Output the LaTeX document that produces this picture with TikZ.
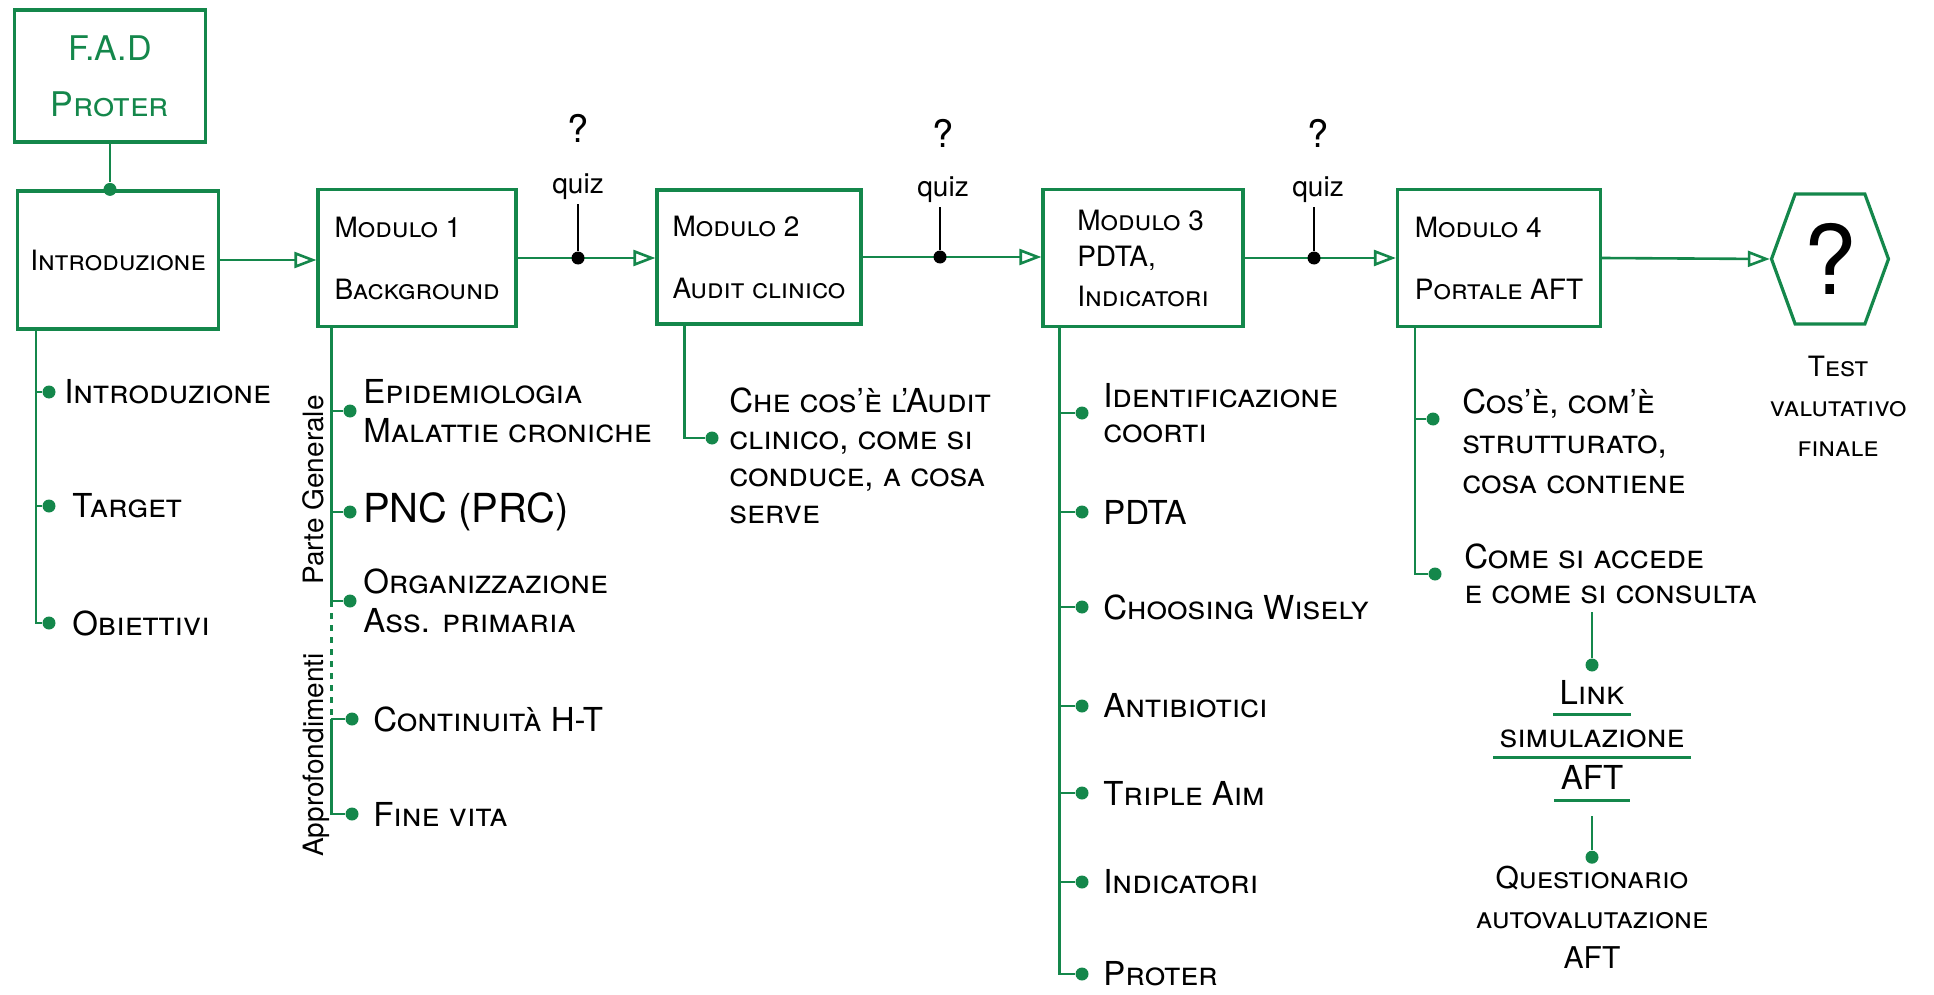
\documentclass[tikz,border=0pt]{standalone}
\usepackage{fontspec}
\setmainfont{TeX Gyre Heros}
\usetikzlibrary{arrows.meta, positioning, shapes.symbols, calc}
\definecolor{grn}{RGB}{20,135,75}
\newcommand\itmfont{\fontsize{16.5}{19.5}\selectfont\scshape}
\newcommand\boxfont{\fontsize{14}{17}\selectfont\scshape}
\tikzset{
  box/.style ={rectangle, draw=grn, line width=1.6pt, align=left, inner sep=0pt, font=\boxfont},
  hexa/.style={signal, signal to=west and east, signal pointer angle=140, draw=grn, line width=1.6pt,
               inner sep=0pt, minimum width=58.5pt, minimum height=65pt, font=\fontsize{48}{48}\selectfont},
  itm/.style ={align=left, inner sep=0pt, font=\itmfont},
  dot/.style ={circle, fill=grn, inner sep=0pt, minimum size=6.5pt},
  qdot/.style={circle, fill=black, inner sep=0pt, minimum size=6.5pt},
  qlbl/.style={inner sep=2pt, font=\fontsize{14}{14}\selectfont},
  rot/.style ={rotate=90, inner sep=0pt, font=\fontsize{14}{14}\selectfont},
  ulbl/.style={inner xsep=3pt, inner ysep=5pt, text height=11pt, text depth=0pt, font=\itmfont},
  fl/.style  ={draw=grn, line width=1.3pt, -{Triangle[open, length=11pt, width=8pt]}},
  br/.style  ={draw=grn, line width=1.1pt},
  ql/.style  ={draw=black, line width=1pt},
  ul/.style  ={draw=grn, line width=1.5pt},
}

\begin{document}
\begin{tikzpicture}[x=0.5pt, y=-0.5pt]
  \useasboundingbox (0,0) rectangle (1934,995);
  % riga principale
  \node[box, minimum width=95.5pt, minimum height=66pt, align=center, text=grn,
        font=\fontsize{17}{19}\selectfont\scshape] (fad) at (110,76) {F.A.D\\[9pt]Proter};
  \node[box, minimum width=100.5pt, minimum height=69pt] (intro) at (118,260) {Introduzione};
  \node[box, minimum width=99pt, minimum height=68.5pt] (m1) at (417,258) {Modulo 1\\[14pt]Background};
  \node[box, minimum width=102pt, minimum height=67pt] (m2) at (759,257) {Modulo 2\\[14pt]Audit clinico};
  \node[box, minimum width=100pt, minimum height=68.5pt] (m3) at (1143,258) {Modulo 3\\[1pt]PDTA,\\[3pt]Indicatori};
  \node[box, minimum width=101.5pt, minimum height=68.5pt] (m4) at (1499,258) {Modulo 4\\[14pt]Portale AFT};
  \node[hexa] (test) at (1830,259) {?};
  \node[itm, align=center, font=\fontsize{14}{20}\selectfont\scshape] (tvf) at (1838,406) {Test\\valutativo\\finale};

  \node[dot] (fd) at (fad.south |- intro.north) {};
  \draw[br] (fad.south) -- (fd);
  \draw[fl] (intro.east) -- (intro.east -| m1.west);
  \draw[fl] (m1.east) -- (m1.east -| m2.west);
  \draw[fl] (m2.east) -- (m2.east -| m3.west);
  \draw[fl] (m3.east) -- (m3.east -| m4.west);
  \draw[fl] (m4.east) -- (test.west);

  % quiz
  \node[qdot] (q1) at (578,258) {};
  \node[qdot] (q2) at (940,257) {};
  \node[qdot] (q3) at (1314,258) {};
  \node[qlbl, font=\fontsize{19}{19}\selectfont] (qa1) at (578,128) {?};
  \node[qlbl] (qz1) at (578,187) {quiz};
  \node[qlbl, font=\fontsize{19}{19}\selectfont] (qa2) at (943,133) {?};
  \node[qlbl] (qz2) at (943,190) {quiz};
  \node[qlbl, font=\fontsize{19}{19}\selectfont] (qa3) at (1318,133) {?};
  \node[qlbl] (qz3) at (1318,190) {quiz};
  \draw[ql] (qz1.south) -- (q1);
  \draw[ql] (qz2.south -| q2) -- (q2);
  \draw[ql] (qz3.south -| q3) -- (q3);

  % Introduzione
  \coordinate (isp) at ([xshift=10pt]intro.south west);
  \node[dot] (i1) at (49,392) {};
  \node[dot] (i2) at (49,506) {};
  \node[dot] (i3) at (49,623) {};
  \node[itm, right=4pt of i1] (it1) {Introduzione};
  \node[itm, right=8pt of i2] (it2) {Target};
  \node[itm, right=8pt of i3] (it3) {Obiettivi};
  \draw[br] (isp) |- (i1);
  \draw[br] (isp) |- (i2);
  \draw[br] (isp) |- (i3);

  % Modulo 1
  \coordinate (bsp) at ([xshift=7.5pt]m1.south west);
  \node[dot] (b1) at (350,411) {};
  \node[dot] (b2) at (350,512) {};
  \node[dot] (b3) at (350,601) {};
  \node[dot] (b4) at (352,719) {};
  \node[dot] (b5) at (352,814) {};
  \node[itm, right=3pt of b1] (bt1) {Epidemiologia\\Malattie croniche};
  \node[itm, right=3pt of b2, font=\fontsize{20}{20}\selectfont] (bt2) {PNC (PRC)};
  \node[itm, right=3pt of b3] (bt3) {Organizzazione\\Ass. primaria};
  \node[itm, right=7pt of b4] (bt4) {Continuità H-T};
  \node[itm, right=7pt of b5] (bt5) {Fine vita};
  \draw[br] (bsp) |- (b1);
  \draw[br] (bsp) |- (b2);
  \draw[br] (bsp) |- (b3);
  \coordinate (bap) at (bsp |- b4);
  \draw[br, dashed] (bsp |- b3) -- (bap);
  \draw[br] (bap) -- (b4);
  \draw[br] (bap) |- (b5);
  \node[rot] (pg) at (313,490) {Parte Generale};
  \node[rot] (ap) at (316,755) {Approfondimenti};

  % Modulo 2
  \coordinate (asp) at ([xshift=14.5pt]m2.south west);
  \node[dot] (a1) at (712,438) {};
  \node[itm, right=5pt of a1, yshift=-9pt, font=\fontsize{16.5}{18.5}\selectfont\scshape] (at1) {Che cos'è l'Audit\\clinico, come si\\conduce, a cosa\\serve};
  \draw[br] (asp) |- (a1);

  % Modulo 3
  \coordinate (csp) at ([xshift=9pt]m3.south west);
  \node[dot] (c1) at (1082,413) {};
  \node[dot] (c2) at (1082,512) {};
  \node[dot] (c3) at (1082,607) {};
  \node[dot] (c4) at (1082,706) {};
  \node[dot] (c5) at (1082,793) {};
  \node[dot] (c6) at (1082,882) {};
  \node[dot] (c7) at (1082,974) {};
  \node[itm, right=7pt of c1, font=\fontsize{16.5}{17.5}\selectfont\scshape] (ct1) {Identificazione\\coorti};
  \node[itm, right=7pt of c2] (ct2) {PDTA};
  \node[itm, right=7pt of c3] (ct3) {Choosing Wisely};
  \node[itm, right=7pt of c4] (ct4) {Antibiotici};
  \node[itm, right=7pt of c5] (ct5) {Triple Aim};
  \node[itm, right=7pt of c6] (ct6) {Indicatori};
  \node[itm, right=7pt of c7] (ct7) {Proter};
  \draw[br] (csp) |- (c1);
  \draw[br] (csp) |- (c2);
  \draw[br] (csp) |- (c3);
  \draw[br] (csp) |- (c4);
  \draw[br] (csp) |- (c5);
  \draw[br] (csp) |- (c6);
  \draw[br] (csp) |- (c7);

  % Modulo 4
  \coordinate (dsp) at ([xshift=9.5pt]m4.south west);
  \node[dot] (e1) at (1433,419) {};
  \node[dot] (e2) at (1435,574) {};
  \node[itm, right=11pt of e1, yshift=-11pt, font=\fontsize{16.5}{20}\selectfont\scshape] (et1) {Cos'è, com'è\\strutturato,\\cosa contiene};
  \node[itm, right=11pt of e2, font=\fontsize{16.5}{17.5}\selectfont\scshape] (et2) {Come si accede\\e come si consulta};
  \draw[br] (dsp) |- (e1);
  \draw[br] (dsp) |- (e2);

  % link simulazione
  \coordinate (lt) at (1592,612);
  \node[dot] (ld) at (1592,665) {};
  \draw[br] (lt) -- (ld);
  \node[ulbl, below=0pt of ld] (lnk) {Link};
  \node[ulbl, below=0pt of lnk] (sim) {simulazione};
  \node[ulbl, below=0pt of sim] (aft) {AFT};
  \draw[ul] (lnk.south west) -- (lnk.south east);
  \draw[ul] (sim.south west) -- (sim.south east);
  \draw[ul] (aft.south west) -- (aft.south east);
  \coordinate[below=8pt of aft] (lb);
  \node[dot, below=25pt of aft] (qd) {};
  \draw[br] (lb) -- (qd);
  \node[itm, align=center, below=1pt of qd, font=\fontsize{15}{20}\selectfont\scshape] (quest) {Questionario\\autovalutazione\\AFT};
\end{tikzpicture}
\end{document}
